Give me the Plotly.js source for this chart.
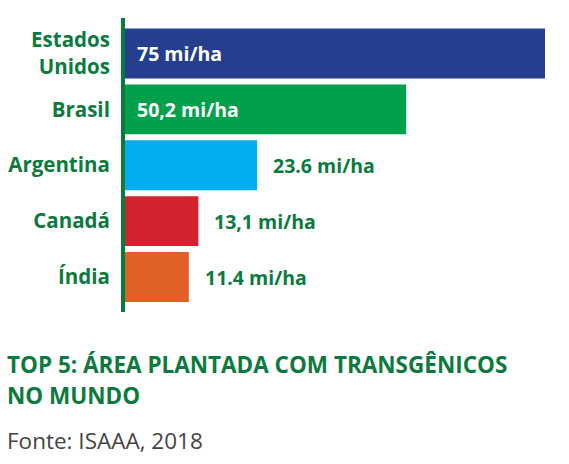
<!DOCTYPE html>
<html>
<head>
<meta charset="utf-8">
<script src="https://cdn.plot.ly/plotly-3.0.1.min.js"></script>
<style>html,body{margin:0;padding:0;background:#fff;}#chart{width:569px;height:464px;}</style>
</head>
<body>
<div id="chart"></div>
<script>
var countries = ["Estados<br>Unidos", "Brasil", "Argentina", "Canadá", "Índia"];
var areas = [75, 50.2, 23.6, 13.1, 11.4];
var valueLabels = ["75 mi/ha", "50,2 mi/ha", "23.6 mi/ha", "13,1 mi/ha", "11.4 mi/ha"];
var labelInside = [true, true, false, false, false];
var barColors = ["#253f8e", "#00a04c", "#00aeef", "#d1222e", "#e06028"];
var titleLines = ["TOP 5: ÁREA PLANTADA COM TRANSGÊNICOS", "NO MUNDO"];
var sourceText = "Fonte: ISAAA, 2018";

var green = "#0b7a3f";
var L = 125, R = 24, T = 18, B = 152;
var W = 569, H = 464;
var pw = W - L - R, ph = H - T - B;
function px2x(p){ return (p - L) / pw; }
function py2y(p){ return (H - B - p) / ph; }

var trace = {
  type: "bar",
  orientation: "h",
  x: areas,
  y: countries,
  marker: {color: barColors},
  hoverinfo: "none"
};

var annotations = countries.map(function(c, i){
  return {
    x: labelInside[i] ? 0 : areas[i],
    y: c, xref: "x", yref: "y",
    text: valueLabels[i],
    showarrow: false,
    xanchor: "left", yanchor: "middle",
    xshift: labelInside[i] ? 10 : 14,
    font: {family: "Open Sans", size: 19.5, weight: 700, color: labelInside[i] ? "#ffffff" : green}
  };
});
annotations.push({
  x: px2x(5), y: py2y(364), xref: "paper", yref: "paper",
  text: titleLines[0], showarrow: false, xanchor: "left", yanchor: "middle",
  font: {family: "Open Sans", size: 22.5, weight: 700, color: green}
});
annotations.push({
  x: px2x(5), y: py2y(395), xref: "paper", yref: "paper",
  text: titleLines[1], showarrow: false, xanchor: "left", yanchor: "middle",
  font: {family: "Open Sans", size: 22.5, weight: 700, color: green}
});
annotations.push({
  x: px2x(5), y: py2y(440), xref: "paper", yref: "paper",
  text: sourceText, showarrow: false, xanchor: "left", yanchor: "middle",
  font: {family: "Open Sans", size: 22.5, color: "#444444"}
});

var layout = {
  width: W, height: H,
  margin: {l: L, r: R, t: T, b: B, pad: 0},
  paper_bgcolor: "#ffffff",
  plot_bgcolor: "#ffffff",
  showlegend: false,
  bargap: 0.107,
  xaxis: {range: [0, 75], showgrid: false, zeroline: false, showticklabels: false, showline: false, fixedrange: true},
  yaxis: {
    type: "category",
    categoryarray: countries,
    range: [4.625, -0.634],
    showgrid: false, zeroline: false,
    showline: true, linecolor: green, linewidth: 4,
    ticks: "", ticklabelstandoff: 7,
    tickfont: {family: "Open Sans", size: 20.5, weight: 700, color: green},
    fixedrange: true
  },
  annotations: annotations
};

Plotly.newPlot("chart", [trace], layout, {displayModeBar: false, staticPlot: true});
</script>
</body>
</html>
